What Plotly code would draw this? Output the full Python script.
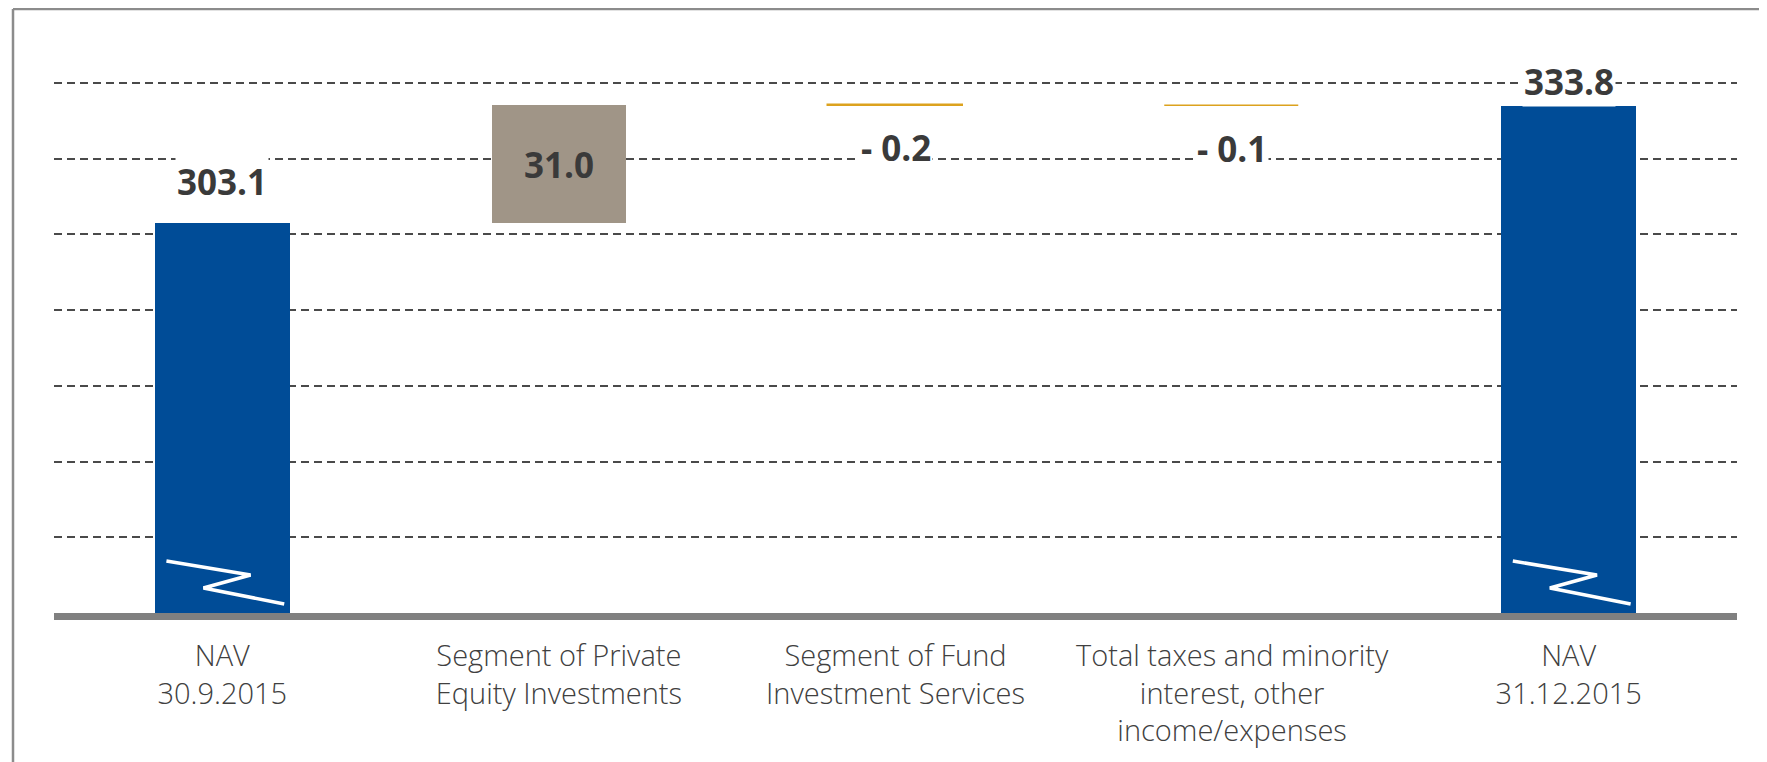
import plotly.graph_objects as go

# ---- data ----
categories = [
    "NAV<br>30.9.2015",
    "Segment of Private<br>Equity Investments",
    "Segment of Fund<br>Investment Services",
    "Total taxes and minority<br>interest, other<br>income/expenses",
    "NAV<br>31.12.2015",
]
start_value = 303.1
deltas = [31.0, -0.2, -0.1]
end_value = 333.8
grid_values = [220, 240, 260, 280, 300, 320, 340]
axis_floor = 200
axis_top = 354

# ---- styles ----
BLUE = "#004C97"
TAUPE = "#A09587"
GOLD = "#DCA21E"
TEXT = "#3A3A3A"
LABEL_FONT = "Open Sans"
BAR_W = 0.4
FIG_W, FIG_H = 1759, 754          # page body has an 8px margin
M_L, M_R, M_T, M_B = 46, 30, 22, 149
PLOT_W = FIG_W - M_L - M_R
PLOT_H = FIG_H - M_T - M_B

x_idx = list(range(len(categories)))

fig = go.Figure()

# totals (bars start below the broken axis and are clipped at its floor)
fig.add_trace(go.Bar(
    x=[x_idx[0], x_idx[-1]], y=[start_value, end_value],
    marker=dict(color=BLUE, line=dict(width=0)), width=BAR_W,
    hoverinfo="skip", showlegend=False,
))

# deltas
bases = []
running = start_value
for d in deltas:
    bases.append(running)
    running += d
pos_x = [x_idx[1 + i] for i, d in enumerate(deltas) if d >= 0]
pos_y = [d for d in deltas if d >= 0]
pos_b = [bases[i] for i, d in enumerate(deltas) if d >= 0]
neg_x = [x_idx[1 + i] for i, d in enumerate(deltas) if d < 0]
neg_y = [d for d in deltas if d < 0]
neg_b = [bases[i] for i, d in enumerate(deltas) if d < 0]

fig.add_trace(go.Bar(
    x=pos_x, y=pos_y, base=pos_b, width=BAR_W,
    marker=dict(color=TAUPE, line=dict(width=0)),
    hoverinfo="skip", showlegend=False,
))
fig.add_trace(go.Bar(
    x=neg_x, y=neg_y, base=neg_b, width=BAR_W,
    marker=dict(color=GOLD, line=dict(color=GOLD, width=1.5)),
    hoverinfo="skip", showlegend=False,
))

# axis-break zigzag marks inside the total bars
px_per_unit = PLOT_H / (axis_top - axis_floor)
zz_dx = [-0.83, 0.42, -0.28, 0.92]      # fraction of half bar width
zz_dy = [52, 38, 25, 9]                   # pixels above the axis floor
for xi in [x_idx[0], x_idx[-1]]:
    fig.add_trace(go.Scatter(
        x=[xi + f * BAR_W / 2 for f in zz_dx],
        y=[axis_floor + p / px_per_unit for p in zz_dy],
        mode="lines", line=dict(color="white", width=3.5),
        hoverinfo="skip", showlegend=False,
    ))

# value labels
val_font = dict(family=LABEL_FONT, size=35, color=TEXT)
fig.add_annotation(x=x_idx[0], y=start_value, text=f"<b>{start_value:.1f}</b>",
                   showarrow=False, yanchor="middle", yshift=41,
                   bgcolor="white", font=val_font)
for i, d in enumerate(deltas):
    if d >= 0:
        fig.add_annotation(x=x_idx[1 + i], y=bases[i] + d / 2, text=f"<b>{d:.1f}</b>",
                           showarrow=False, yanchor="middle", font=val_font)
    else:
        fig.add_annotation(x=x_idx[1 + i], y=bases[i], text=f"<b>- {abs(d):.1f}</b>",
                           showarrow=False, yanchor="middle", yshift=-42,
                           bgcolor="white", font=val_font)
fig.add_annotation(x=x_idx[-1], y=end_value, text=f"<b>{end_value:.1f}</b>",
                   showarrow=False, yanchor="middle", yshift=25,
                   bgcolor="white", font=val_font)

# outer frame (only left and top edges are visible)
frame_x = (5 - M_L) / PLOT_W
frame_y = 1 + (M_T - 1) / PLOT_H
frame_line = dict(color="#8C8C8C", width=2.5)
fig.add_shape(type="line", xref="paper", yref="paper",
              x0=frame_x, x1=frame_x, y0=-0.5, y1=frame_y, line=frame_line)
fig.add_shape(type="line", xref="paper", yref="paper",
              x0=frame_x, x1=1.1, y0=frame_y, y1=frame_y, line=frame_line)

fig.update_layout(
    width=FIG_W, height=FIG_H,
    margin=dict(l=M_L, r=M_R, t=M_T, b=M_B),
    paper_bgcolor="white", plot_bgcolor="white",
    barmode="overlay", bargap=0,
    font=dict(family=LABEL_FONT, color=TEXT),
    xaxis=dict(
        tickmode="array", tickvals=x_idx, ticktext=categories,
        range=[-0.5, len(categories) - 0.5],
        showgrid=False, zeroline=False,
        showline=True, linecolor="#808080", linewidth=7,
        ticks="", tickfont=dict(family=LABEL_FONT, size=29, color="#404040", weight=300),
        ticklabelstandoff=11,
        fixedrange=True,
    ),
    yaxis=dict(
        range=[axis_floor, axis_top],
        tickmode="array", tickvals=grid_values, showticklabels=False,
        showgrid=True, gridcolor="#4A4A4A", gridwidth=1.5, griddash="8px,5px",
        zeroline=False, showline=False, ticks="",
        fixedrange=True,
    ),
)

fig.write_html("out.html")
